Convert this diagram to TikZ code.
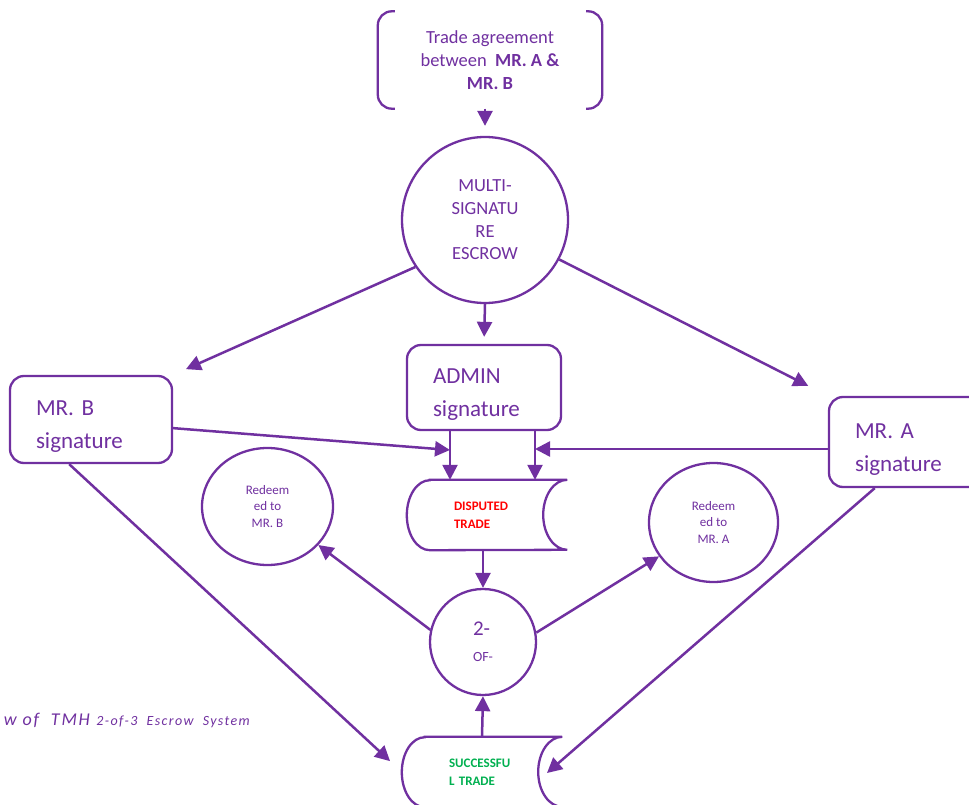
\documentclass[tikz,border=0pt]{standalone}
\usepackage{fontspec}
\setmainfont{Carlito}
\usepackage{tikz}
\usetikzlibrary{arrows.meta,shapes.geometric}
\usepackage{xcolor}
\definecolor{escrow}{HTML}{7030A0}
\definecolor{disputered}{HTML}{FF0000}
\definecolor{successgreen}{HTML}{00B050}
\frenchspacing

\begin{document}
\begin{tikzpicture}[x=1pt, y=-1pt, >={Triangle[length=15pt,width=15pt]},
  every node/.style={text=escrow, inner sep=0pt},
  sig/.style={draw=escrow, line width=2.3pt, rounded corners=14pt, align=left,
    inner xsep=26pt, font=\fontsize{23}{33}\selectfont,
    execute at begin node={\rule{0pt}{29pt}}},
  redeem/.style={ellipse, draw=escrow, line width=2.3pt, align=center,
    font=\fontsize{13}{16.5}\selectfont,
    execute at begin node={\rule{0pt}{33pt}}},
  store/.style={minimum width=160pt, minimum height=70pt, inner xsep=47pt,
    text width=66pt, align=left, font=\bfseries\fontsize{13}{17.5}\selectfont},
  outline/.style={draw=escrow, line width=2.3pt},
  conn/.style={color=escrow, line width=2.5pt}
]
  % page
  \path[use as bounding box, fill=white] (0,0) rectangle (969,805);
  \clip (0,0) rectangle (969,805);

  \node[minimum width=224pt, minimum height=97pt, align=center,
    font=\fontsize{18.5}{23}\selectfont] (trade) at (490,60)
    {Trade agreement\\between\ \ \textbf{MR. A \&}\\\textbf{MR. B}};
  \draw[outline, rounded corners=14pt] ([xshift=17pt]trade.north west) -- (trade.north west)
    -- (trade.south west) -- ([xshift=17pt]trade.south west);
  \draw[outline, rounded corners=14pt] ([xshift=-16pt]trade.north east) -- (trade.north east)
    -- (trade.south east) -- ([xshift=-16pt]trade.south east);

  \node[circle, outline, minimum size=166pt, align=center,
    font=\fontsize{18.5}{22.7}\selectfont] (multi) at (485,220)
    {MULTI-\\SIGNATU\\RE\\ESCROW};

  \node[sig, text width=102pt, minimum height=85pt] (admin) at (484,387.5) {ADMIN\\signature};
  \node[sig, text width=110pt, minimum height=87pt] (mrB) at (91,419.5) {MR. B\\signature};
  \node[sig, text width=109pt, minimum height=90pt, execute at begin node={\rule{0pt}{24pt}}]
    (mrA) at (909.5,442) {MR. A\\signature};

  \node[store, text=disputered] (disputed) at (487,515) {DISPUTED\\TRADE};
  \node[store, text=successgreen] (successful) at (482,772) {SUCCESSFU\\L TRADE};
  \foreach \s in {disputed, successful}
    \draw[outline] ([xshift=23pt]\s.north west) -- (\s.north east)
      arc[start angle=270, end angle=90, x radius=24, y radius=35]
      -- ([xshift=23pt]\s.south west)
      arc[start angle=90, end angle=270, x radius=23, y radius=35] -- cycle;

  \node[redeem, minimum width=131pt, minimum height=117pt] (redeemB) at (267.5,506.5) {Redeem\\ed to\\MR. B};
  \node[redeem, minimum width=129pt, minimum height=119pt, execute at begin node={\rule{0pt}{29pt}}]
    (redeemA) at (713.5,522.5) {Redeem\\ed to\\MR. A};

  \node[circle, outline, minimum size=106pt, align=left,
    font=\fontsize{14}{26}\selectfont] (twoof) at (483,642)
    {{\fontsize{21}{26}\selectfont 2-}\\OF-\hspace{8pt}};

  \coordinate (jL) at (450,450);
  \coordinate (jR) at (535,449);
  \coordinate (tipA) at (547,773);

  \node[anchor=base east, font=\itshape\addfontfeatures{LetterSpace=10}] (caption) at (250,725)
    {{\fontsize{18}{20}\selectfont w of\ \ TMH}\ \ {\fontsize{14}{16}\selectfont 2-of-3\ \ Escrow\ \ System}};

  %TODO: Pfeile
  \path[->, conn]
  (trade.south -| multi) edge[shorten >=10pt] (multi.north)
  (multi.south) edge[shorten >=7pt] (admin.north)
  (multi.214) edge[shorten >=14pt] (mrB.north east)
  (multi.332) edge[shorten >=22pt] (mrA.north west)
  (mrB.-6) edge (jL)
  (mrA.west |- jR) edge (jR)
  (admin.south -| jL) edge (disputed.north -| jL)
  (admin.south -| jR) edge (disputed.north -| jR)
  (disputed.south -| twoof) edge (twoof.north)
  (twoof.167) edge (redeemB)
  (twoof.10) edge (redeemA)
  (successful.north) edge (twoof.south)
  (mrB.244) edge[shorten >=16pt] (successful.west)
  (mrA.233) edge (tipA)
  ;
\end{tikzpicture}
\end{document}
